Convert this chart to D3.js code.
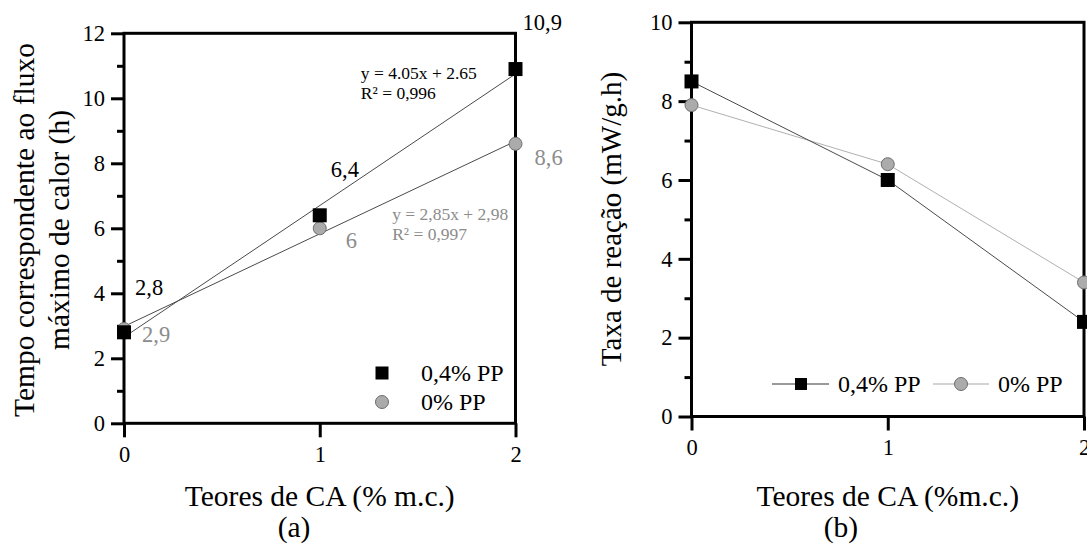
<!DOCTYPE html>
<html>
<head>
<meta charset="utf-8">
<script src="https://cdn.jsdelivr.net/npm/d3@7/dist/d3.min.js"></script>
<style>
  html, body { margin: 0; padding: 0; background: #fff; }
  svg { display: block; }
  svg text { font-family: "Liberation Serif", "DejaVu Serif", serif !important; }
</style>
</head>
<body>
<svg id="chart" width="1087" height="544" font-family="Liberation Serif, serif"></svg>
<script>
// ---------- DATA ----------
const categories = [0, 1, 2];                 // Teores de CA (% m.c.)
const seriesNames = ["0,4% PP", "0% PP"];

// Panel (a): Tempo correspondente ao fluxo máximo de calor (h)
const timePP04 = [2.8, 6.4, 10.9];
const timePP0  = [2.9, 6.0, 8.6];
const timeLabelsPP04 = ["2,8", "6,4", "10,9"];
const timeLabelsPP0  = ["2,9", "6", "8,6"];
const fitSlopes     = [4.05, 2.85];
const fitIntercepts = [2.65, 2.98];
const fitEquations  = ["y = 4.05x + 2.65", "y = 2,85x + 2,98"];
const fitR2         = ["R² = 0,996", "R² = 0,997"];

// Panel (b): Taxa de reação (mW/g.h)
const ratePP04 = [8.5, 6.0, 2.4];
const ratePP0  = [7.9, 6.4, 3.4];

// Tick values
const yTicksA = [0, 2, 4, 6, 8, 10, 12];
const yMinorA = [1, 3, 5, 7, 9, 11];
const yTicksB = [0, 2, 4, 6, 8, 10];
const yMinorB = [1, 3, 5, 7, 9];
const xTicks  = [0, 1, 2];

// ---------- STYLE ----------
const FONT = '"Liberation Serif", serif';
const BLACK = "#000";
const GRAY_TXT = "#8c8c8c";
const CIRCLE_FILL = "#ababab";
const CIRCLE_STROKE = "#6e6e6e";
const DARK_LINE = "#4a4a4a";
const LIGHT_LINE = "#b0b0b0";

const svg = d3.select("#chart");

function drawFrame(g, x, y, yTicks, yMinor) {
  const [x0, x1] = x.range();
  const [y0, y1] = y.range();
  const ya = d3.axisLeft(y).tickValues(yTicks).tickSize(13).tickPadding(6)
    .tickFormat(d3.format("d"));
  const yAx = g.append("g").attr("transform", `translate(${x0},0)`).call(ya);
  const ym = d3.axisLeft(y).tickValues(yMinor).tickSize(7).tickFormat("");
  const yAxm = g.append("g").attr("transform", `translate(${x0},0)`).call(ym);
  const xa = d3.axisBottom(x).tickValues(xTicks).tickSize(14).tickPadding(9)
    .tickFormat(d3.format("d"));
  const xAx = g.append("g").attr("transform", `translate(0,${y0})`).call(xa);
  [yAx, yAxm, xAx].forEach(a => {
    a.attr("font-family", FONT).attr("font-size", 22.5);
    a.select(".domain").remove();
    a.selectAll("line").attr("stroke", BLACK).attr("stroke-width", 3);
    a.selectAll("text").attr("font-size", 22.5).attr("fill", BLACK)
      .attr("font-family", FONT);
  });
  g.append("rect").attr("x", x0).attr("y", y1).attr("width", x1 - x0).attr("height", y0 - y1)
    .attr("fill", "none").attr("stroke", BLACK).attr("stroke-width", 3);
}

function squares(g, x, y, vals, size) {
  g.selectAll(null).data(vals).enter().append("rect")
    .attr("x", (d, i) => x(categories[i]) - size / 2)
    .attr("y", d => y(d) - size / 2)
    .attr("width", size).attr("height", size).attr("fill", BLACK);
}
function circles(g, x, y, vals, r) {
  g.selectAll(null).data(vals).enter().append("circle")
    .attr("cx", (d, i) => x(categories[i]))
    .attr("cy", d => y(d)).attr("r", r)
    .attr("fill", CIRCLE_FILL).attr("stroke", CIRCLE_STROKE).attr("stroke-width", 1);
}
function txt(g, x, y, s, size, fill) {
  return g.append("text").attr("x", x).attr("y", y).attr("font-size", size)
    .attr("font-family", FONT).attr("fill", fill || BLACK).text(s);
}

// ================= PANEL (a) =================
const gA = svg.append("g");
const xA = d3.scaleLinear().domain([0, 2]).range([124, 515.5]);
const yA = d3.scaleLinear().domain([0, 12]).range([423.3, 33.3]);
drawFrame(gA, xA, yA, yTicksA, yMinorA);

fitSlopes.forEach((m, k) => {
  gA.append("line")
    .attr("x1", xA(0)).attr("y1", yA(fitIntercepts[k]))
    .attr("x2", xA(2)).attr("y2", yA(fitIntercepts[k] + 2 * m))
    .attr("stroke", DARK_LINE).attr("stroke-width", 1);
});
circles(gA, xA, yA, timePP0, 6.5);
squares(gA, xA, yA, timePP04, 14);

const offA04 = [[11, -37], [11, -38], [7, -39]];
const offA0  = [[18, 13], [26, 20], [19, 21]];
timePP04.forEach((d, i) => txt(gA, xA(categories[i]) + offA04[i][0], yA(d) + offA04[i][1], timeLabelsPP04[i], 22.5));
timePP0.forEach((d, i) => txt(gA, xA(categories[i]) + offA0[i][0], yA(d) + offA0[i][1], timeLabelsPP0[i], 22.5, GRAY_TXT));

const eqPos = [[1.21, 10.6, BLACK], [1.37, 6.26, GRAY_TXT]];
eqPos.forEach((p, k) => {
  const t = gA.append("text").attr("x", xA(p[0])).attr("y", yA(p[1]))
    .attr("font-size", 17.5).attr("font-family", FONT).attr("fill", p[2]);
  t.append("tspan").attr("x", xA(p[0])).text(fitEquations[k]);
  t.append("tspan").attr("x", xA(p[0])).attr("dy", 20).text(fitR2[k]);
});

// legend (a)
gA.append("rect").attr("x", 382 - 6.5).attr("y", 373 - 6.5).attr("width", 13).attr("height", 13).attr("fill", BLACK);
gA.append("circle").attr("cx", 382).attr("cy", 402).attr("r", 6.5)
  .attr("fill", CIRCLE_FILL).attr("stroke", CIRCLE_STROKE);
txt(gA, 421, 381, seriesNames[0], 24);
txt(gA, 421, 410, seriesNames[1], 24);

// titles (a)
const yTitleA = gA.append("text").attr("transform", "translate(0,230) rotate(-90)")
  .attr("text-anchor", "middle").attr("font-size", 29.5).attr("font-family", FONT);
yTitleA.append("tspan").attr("x", 0).attr("y", 34).text("Tempo correspondente ao fluxo");
yTitleA.append("tspan").attr("x", 0).attr("y", 69).attr("dx", 0).text("máximo de calor (h)");
txt(gA, xA(1), 506, "Teores de CA (% m.c.)", 29.5).attr("text-anchor", "middle");
txt(gA, 294, 537, "(a)", 29.5).attr("text-anchor", "middle");

// ================= PANEL (b) =================
const gB = svg.append("g");
const xB = d3.scaleLinear().domain([0, 2]).range([691.5, 1084]);
const yB = d3.scaleLinear().domain([0, 10]).range([416.5, 22.3]);
drawFrame(gB, xB, yB, yTicksB, yMinorB);

const lineGen = d3.line().x((d, i) => xB(categories[i])).y(d => yB(d));
gB.append("path").datum(ratePP0).attr("d", lineGen).attr("fill", "none")
  .attr("stroke", LIGHT_LINE).attr("stroke-width", 1);
gB.append("path").datum(ratePP04).attr("d", lineGen).attr("fill", "none")
  .attr("stroke", DARK_LINE).attr("stroke-width", 1);
squares(gB, xB, yB, ratePP04, 14);
circles(gB, xB, yB, ratePP0, 6.5);

// legend (b)
gB.append("line").attr("x1", 772).attr("x2", 829).attr("y1", 384).attr("y2", 384)
  .attr("stroke", "#777").attr("stroke-width", 1.5);
gB.append("rect").attr("x", 801 - 6).attr("y", 384 - 6).attr("width", 12).attr("height", 12).attr("fill", BLACK);
txt(gB, 838, 392, seriesNames[0], 24);
gB.append("line").attr("x1", 933).attr("x2", 989).attr("y1", 384).attr("y2", 384)
  .attr("stroke", "#c4c4c4").attr("stroke-width", 1.5);
gB.append("circle").attr("cx", 961).attr("cy", 384).attr("r", 6.5)
  .attr("fill", CIRCLE_FILL).attr("stroke", CIRCLE_STROKE);
txt(gB, 998, 392, seriesNames[1], 24);

// titles (b)
gB.append("text").attr("transform", "translate(621,219) rotate(-90)")
  .attr("text-anchor", "middle").attr("font-size", 29).attr("font-family", FONT)
  .text("Taxa de reação (mW/g.h)");
txt(gB, xB(1), 506, "Teores de CA (%m.c.)", 29.5).attr("text-anchor", "middle");
txt(gB, 841, 537, "(b)", 29.5).attr("text-anchor", "middle");
</script>
</body>
</html>
